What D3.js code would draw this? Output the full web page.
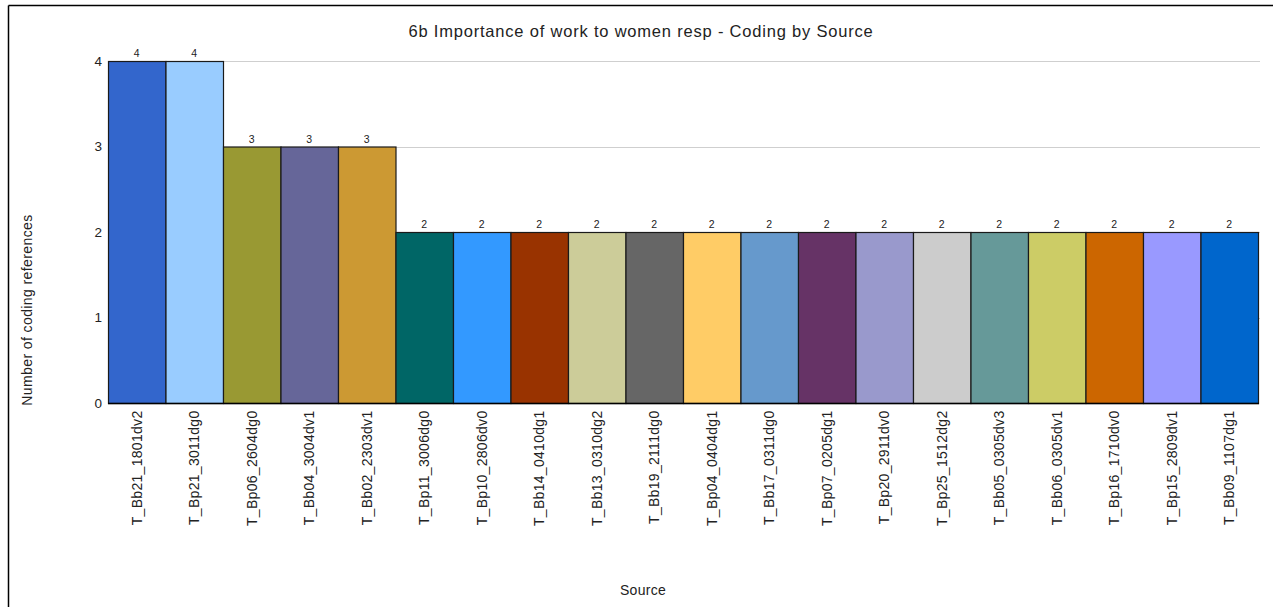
<!DOCTYPE html>
<html>
<head>
<meta charset="utf-8">
<script src="https://cdnjs.cloudflare.com/ajax/libs/d3/7.8.5/d3.min.js"></script>
<style>
  html, body { margin: 0; padding: 0; background: #fff; }
  svg { display: block; font-family: Arial, "Liberation Sans", sans-serif; }
</style>
</head>
<body>
<svg id="chart" width="1273" height="607"></svg>
<script>
// Sources coded at node "6b Importance of work to women resp"
const sources = [
  "T_Bb21_1801dv2", "T_Bp21_3011dg0", "T_Bp06_2604dg0", "T_Bb04_3004dv1",
  "T_Bb02_2303dv1", "T_Bp11_3006dg0", "T_Bp10_2806dv0", "T_Bb14_0410dg1",
  "T_Bb13_0310dg2", "T_Bb19_2111dg0", "T_Bp04_0404dg1", "T_Bb17_0311dg0",
  "T_Bp07_0205dg1", "T_Bp20_2911dv0", "T_Bp25_1512dg2", "T_Bb05_0305dv3",
  "T_Bb06_0305dv1", "T_Bp16_1710dv0", "T_Bp15_2809dv1", "T_Bb09_1107dg1"
];
const references = [4, 4, 3, 3, 3, 2, 2, 2, 2, 2, 2, 2, 2, 2, 2, 2, 2, 2, 2, 2];
const barColors = [
  "#3366CC", "#99CCFF", "#999933", "#666699", "#CC9933", "#006666", "#3399FF",
  "#993300", "#CCCC99", "#666666", "#FFCC66", "#6699CC", "#663366", "#9999CC",
  "#CCCCCC", "#669999", "#CCCC66", "#CC6600", "#9999FF", "#0066CC"
];
const yTicks = [0, 1, 2, 3, 4];

const svg = d3.select("#chart");
const W = 1273, H = 607;
const FONT = "Arial, 'Liberation Sans', sans-serif";

// outer frame (top and left edges)
svg.append("line").attr("x1", 8.5).attr("x2", W).attr("y1", 5.5).attr("y2", 5.5)
  .attr("stroke", "#000").attr("stroke-width", 1.5);
svg.append("line").attr("x1", 8.5).attr("x2", 8.5).attr("y1", 5.5).attr("y2", H)
  .attr("stroke", "#000").attr("stroke-width", 1.5);

const plot = { left: 108, right: 1258, top: 61, bottom: 403 };

const x = d3.scaleBand().domain(sources).range([plot.left, plot.right]).padding(0);
const y = d3.scaleLinear().domain([0, 4]).range([plot.bottom, plot.top]);

// horizontal gridlines
svg.append("g").selectAll("line").data(yTicks.filter(d => d > 0)).join("line")
  .attr("x1", plot.left).attr("x2", plot.right + 2)
  .attr("y1", d => Math.round(y(d)) + 0.5).attr("y2", d => Math.round(y(d)) + 0.5)
  .attr("stroke", "#cfcfcf").attr("stroke-width", 1);

// y axis tick labels
const yAxis = d3.axisLeft(y).tickValues(yTicks).tickFormat(d3.format("d")).tickSize(0).tickPadding(6);
const gy = svg.append("g").attr("transform", `translate(${plot.left},0)`).call(yAxis);
gy.select(".domain").remove();
gy.selectAll("text").attr("font-size", 13.5).attr("fill", "#222").attr("font-family", FONT);

// bars
svg.append("g").selectAll("rect").data(sources).join("rect")
  .attr("x", d => x(d) + 0.5)
  .attr("y", (d, i) => y(references[i]) + 0.5)
  .attr("width", x.bandwidth())
  .attr("height", (d, i) => y(0) - y(references[i]))
  .attr("fill", (d, i) => barColors[i])
  .attr("stroke", "#1a1a1a").attr("stroke-width", 1.2);

// value labels above bars
svg.append("g").selectAll("text").data(sources).join("text")
  .attr("x", d => x(d) + x.bandwidth() / 2)
  .attr("y", (d, i) => y(references[i]) - 4)
  .attr("text-anchor", "middle").attr("font-size", 10.5).attr("fill", "#222")
  .text((d, i) => references[i]);

// x axis baseline and rotated category labels
const xAxis = d3.axisBottom(x).tickSize(0).tickPadding(0);
const gx = svg.append("g").attr("transform", `translate(0,${plot.bottom + 0.5})`).call(xAxis);
gx.select(".domain").attr("stroke", "#000").attr("stroke-width", 1.5)
  .attr("d", `M${plot.left},0H${plot.right + 1}`);
gx.selectAll("text")
  .attr("font-size", 14).attr("letter-spacing", 0.3).attr("fill", "#222")
  .attr("font-family", FONT)
  .attr("transform", "rotate(-90)")
  .attr("text-anchor", "end")
  .attr("x", -7).attr("y", 0).attr("dy", "0.35em");

// titles
svg.append("text").attr("x", 641).attr("y", 37).attr("text-anchor", "middle")
  .attr("font-size", 16.5).attr("letter-spacing", 0.8).attr("fill", "#222")
  .text("6b Importance of work to women resp - Coding by Source");

svg.append("text").attr("transform", `translate(32,310) rotate(-90)`)
  .attr("text-anchor", "middle").attr("font-size", 14).attr("letter-spacing", 0.4).attr("fill", "#222")
  .text("Number of coding references");

svg.append("text").attr("x", 643).attr("y", 595).attr("text-anchor", "middle")
  .attr("font-size", 14).attr("letter-spacing", 0.3).attr("fill", "#222")
  .text("Source");
</script>
</body>
</html>
